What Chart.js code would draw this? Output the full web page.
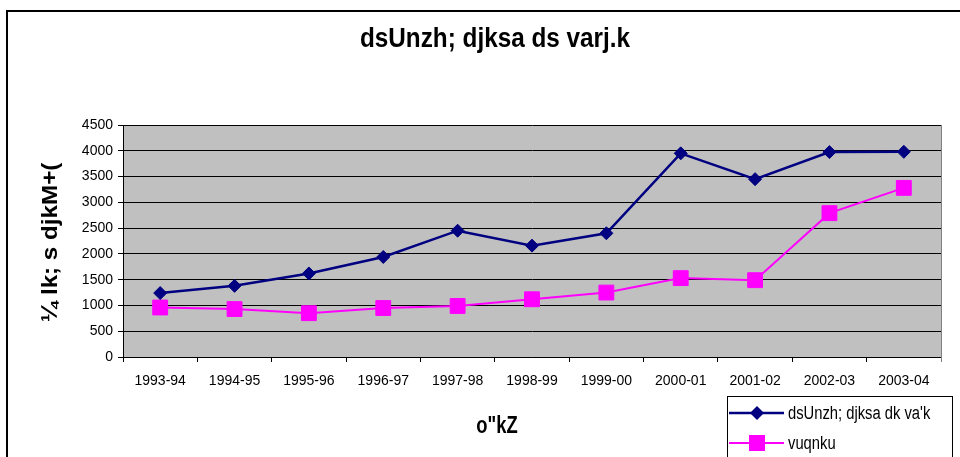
<!DOCTYPE html>
<html>
<head>
<meta charset="utf-8">
<script src="https://cdn.jsdelivr.net/npm/chart.js@4.4.0/dist/chart.umd.min.js"></script>
<style>
  html, body { margin:0; padding:0; background:#fff; overflow:hidden; }
  #wrap { position:relative; width:960px; height:457px; }
</style>
</head>
<body>
<div id="wrap"><canvas id="taxChart" width="960" height="457"></canvas></div>
<script>
// ==================== DATA ====================
const years = ["1993-94","1994-95","1995-96","1996-97","1997-98","1998-99","1999-00","2000-01","2001-02","2002-03","2003-04"];
const shareValues = [1240, 1380, 1620, 1940, 2450, 2160, 2400, 3950, 3450, 3975, 3980];
const grantValues = [960, 930, 850, 950, 990, 1120, 1250, 1530, 1490, 2790, 3280];
const yMin = 0, yMax = 4500, yStep = 500;

const titleText = "dsUnzh; djksa ds varj.k";
const yTitleText = "¼ lk; s djkM+(";
const xTitleText = 'o"kZ';
const shareLabel = "dsUnzh; djksa dk va'k";
const grantLabel = "vuqnku";

const navy = "#000080";
const magenta = "#FF00FF";
const tickFont = { family: "'Liberation Sans', Arial, sans-serif", size: 14 };

// ==================== HELPERS ====================
function drawText(ctx, text, x, y, font, sx, align){
    ctx.save();
    ctx.font = font;
    ctx.fillStyle = "#000";
    ctx.textBaseline = "alphabetic";
    ctx.textAlign = align || "left";
    ctx.translate(x, y);
    ctx.scale(sx, 1);
    ctx.fillText(text, 0, 0);
    ctx.restore();
}

function legendEntry(ctx, y, color, shape, label, lw){
    ctx.save();
    ctx.strokeStyle = color;
    ctx.fillStyle = color;
    ctx.lineWidth = lw;
    ctx.beginPath();
    ctx.moveTo(729, y);
    ctx.lineTo(784, y);
    ctx.stroke();
    ctx.beginPath();
    if(shape === "diamond"){
        ctx.moveTo(757 - 7, y);
        ctx.lineTo(757, y - 7);
        ctx.lineTo(757 + 7, y);
        ctx.lineTo(757, y + 7);
        ctx.closePath();
    }else{
        ctx.rect(757 - 8, y - 8, 16, 16);
    }
    ctx.fill();
    ctx.restore();
    drawText(ctx, label, 788, y + 6, "18px 'Liberation Sans', Arial, sans-serif", 0.82);
}

// ==================== FRAME / TEXT PLUGIN ====================
const framePlugin = {
    id: "frame",
    beforeDraw(chart){
        const {ctx, chartArea: a} = chart;
        ctx.save();
        ctx.fillStyle = "#fff";
        ctx.fillRect(0, 0, chart.width, chart.height);
        ctx.strokeStyle = "#000";
        ctx.lineWidth = 2;
        ctx.beginPath();
        ctx.moveTo(7, chart.height + 5);
        ctx.lineTo(7, 11);
        ctx.lineTo(chart.width + 5, 11);
        ctx.stroke();
        ctx.fillStyle = "#C0C0C0";
        ctx.fillRect(a.left, a.top, a.right - a.left, a.bottom - a.top);
        ctx.restore();
    },
    afterDraw(chart){
        const {ctx, chartArea: a} = chart;

        // right border of plot
        ctx.save();
        ctx.strokeStyle = "#808080";
        ctx.lineWidth = 1;
        ctx.beginPath();
        ctx.moveTo(a.right + 0.5, a.top);
        ctx.lineTo(a.right + 0.5, a.bottom + 5);
        ctx.stroke();
        ctx.restore();

        // title
        drawText(ctx, titleText, 495, 47, "bold 27px 'Liberation Sans', Arial, sans-serif", 0.9, "center");

        // y title (clipped at the top like the original)
        ctx.save();
        ctx.beginPath();
        ctx.rect(0, 158, 120, 300);
        ctx.clip();
        ctx.translate(57, 322);
        ctx.rotate(-Math.PI / 2);
        ctx.scale(1.1, 1);
        ctx.font = "bold 22px 'Liberation Sans', Arial, sans-serif";
        ctx.fillStyle = "#000";
        ctx.textAlign = "left";
        ctx.fillText(yTitleText, 0, 0);
        ctx.restore();

        // x title
        drawText(ctx, xTitleText, 497, 433, "bold 23px 'Liberation Sans', Arial, sans-serif", 0.8, "center");

        // legend
        ctx.save();
        ctx.fillStyle = "#fff";
        ctx.fillRect(727, 396, 226, 70);
        ctx.strokeStyle = "#000";
        ctx.lineWidth = 1;
        ctx.strokeRect(727.5, 396.5, 225, 80);
        ctx.restore();
        legendEntry(ctx, 413, navy, "diamond", shareLabel, 2.5);
        legendEntry(ctx, 443, magenta, "square", grantLabel, 2);
    }
};

// ==================== CHART ====================
const ctx = document.getElementById("taxChart").getContext("2d");
const chart = new Chart(ctx, {
    type: "line",
    data: {
        labels: years,
        datasets: [
            {
                label: shareLabel,
                data: shareValues,
                borderColor: navy,
                backgroundColor: navy,
                borderWidth: 2.5,
                pointStyle: "rectRot",
                pointRadius: 6.5,
                pointBorderWidth: 1,
                tension: 0
            },
            {
                label: grantLabel,
                data: grantValues,
                borderColor: magenta,
                backgroundColor: magenta,
                borderWidth: 2,
                pointStyle: "rect",
                pointRadius: 10.5,
                pointBorderWidth: 1,
                tension: 0
            }
        ]
    },
    options: {
        responsive: false,
        animation: false,
        layout: { padding: { left: 0, top: 125, right: 19, bottom: 0 } },
        plugins: {
            legend: { display: false },
            title: { display: false },
            tooltip: { enabled: false }
        },
        scales: {
            x: {
                offset: true,
                grid: { offset: true, drawOnChartArea: false, color: "#000", tickLength: 5 },
                border: { color: "#000", width: 1 },
                ticks: { color: "#000", font: tickFont, padding: 11, maxRotation: 0, autoSkip: false },
                afterFit(s){ s.height = 100; }
            },
            y: {
                min: yMin,
                max: yMax,
                grid: { color: "#000", tickLength: 5 },
                border: { color: "#000", width: 1 },
                ticks: { stepSize: yStep, color: "#000", font: tickFont, padding: 5,
                         callback: v => String(v) },
                afterFit(s){ s.width = 123; }
            }
        }
    },
    plugins: [framePlugin]
});
</script>
</body>
</html>
